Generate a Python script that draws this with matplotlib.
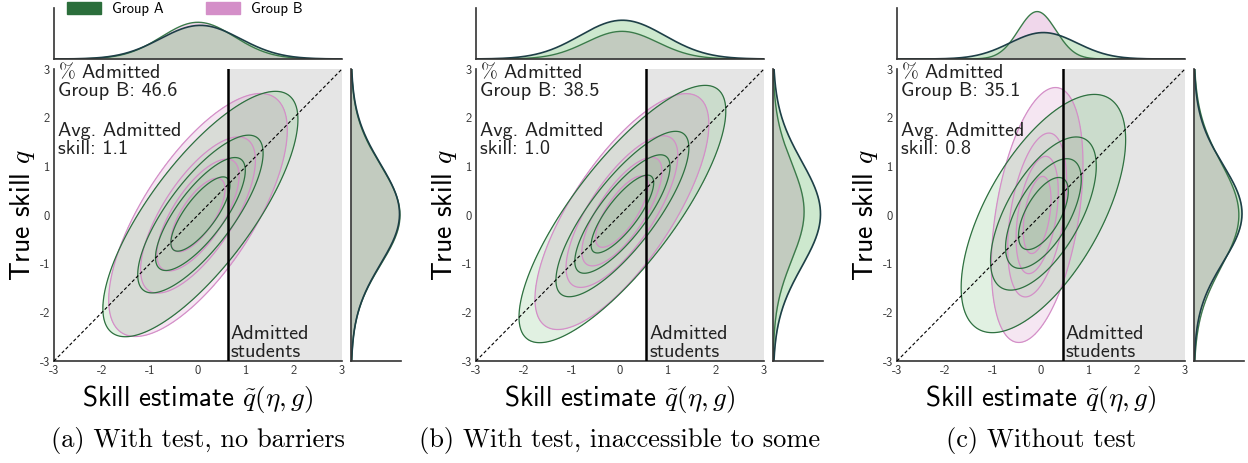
import numpy as np
import matplotlib
matplotlib.use("Agg")
import matplotlib.pyplot as plt
from matplotlib.patches import Patch

plt.rcParams['mathtext.fontset'] = 'cm'
plt.rcParams['font.family'] = ['cmss10', 'DejaVu Sans']
plt.rcParams['axes.unicode_minus'] = False

# values
captions = ['(a) With test, no barriers', '(b) With test, inaccessible to some', '(c) Without test']
pct_admitted_b = ['46.6', '38.5', '35.1']
avg_admitted_skill = ['1.1', '1.0', '0.8']
threshold = [0.62, 0.55, 0.45]

# per-panel group parameters: mean x, mean y, sd x, sd y, correlation
group_a_mean_x = [0.05, 0.05, 0.05]
group_a_mean_y = [0.02, 0.02, 0.03]
group_a_sd_x = [0.83, 0.88, 0.70]
group_a_sd_y = [1.03, 1.08, 1.0]
group_a_rho = [0.77, 0.80, 0.62]

group_b_mean_x = [0.0, 0.04, -0.08]
group_b_mean_y = [0.0, 0.07, 0.0]
group_b_sd_x = [0.76, 0.74, 0.39]
group_b_sd_y = [1.02, 0.99, 1.07]
group_b_rho = [0.70, 0.74, 0.40]

# marginal weight of group B relative to A
group_b_weight = [1.0, 0.6, 1.0]

# iso-proportion levels (mass outside each contour)
levels = [0.05, 0.29, 0.53, 0.76]

ticks = [-3, -2, -1, 0, 1, 2, 3]
tick_labels = ['-3', '-2', '-1', '0', '1', '2', '3']

green_fill = '#4caf50'
green_edge = '#2e7040'
pink_fill = '#d48fc8'
pink_edge = '#d48fc8'
dark_line = '#1d3f47'

W, H = 1248, 463
fig = plt.figure(figsize=(W / 100, H / 100), dpi=100)

main_left = [54, 476, 897]
main_w = 288
main_top, main_bot = 69, 361
marg_gap = 9
marg_w = 50
top_marg_top, top_marg_bot = 8, 59
top_frac = [0.72, 0.76, 0.93]
right_frac = [0.98, 0.95, 0.96]

grid = np.linspace(-3.2, 3.2, 400)
X, Y = np.meshgrid(grid, grid)


def mahal(mx, my, sx, sy, rho):
    u = (X - mx) / sx
    v = (Y - my) / sy
    return (u * u - 2 * rho * u * v + v * v) / (1 - rho ** 2)


def gauss(t, m, s):
    return np.exp(-0.5 * ((t - m) / s) ** 2) / (np.sqrt(2 * np.pi) * s)


r2 = [-2 * np.log(l) for l in levels]

for i in range(3):
    L = main_left[i]
    ax = fig.add_axes([L / W, 1 - main_bot / H, main_w / W, (main_bot - main_top) / H])
    axt = fig.add_axes([L / W, 1 - top_marg_bot / H, main_w / W, (top_marg_bot - top_marg_top) / H])
    axr = fig.add_axes([(L + main_w + marg_gap) / W, 1 - main_bot / H, marg_w / W, (main_bot - main_top) / H])

    ax.axvspan(threshold[i], 3, color='#e5e5e5', zorder=0, lw=0)

    groups = [
        (group_b_mean_x[i], group_b_mean_y[i], group_b_sd_x[i], group_b_sd_y[i], group_b_rho[i], pink_fill, pink_edge, 0.22),
        (group_a_mean_x[i], group_a_mean_y[i], group_a_sd_x[i], group_a_sd_y[i], group_a_rho[i], green_fill, green_edge, 0.165),
    ]
    for mx, my, sx, sy, rho, fc, ec, a in groups:
        d2 = mahal(mx, my, sx, sy, rho)
        for k, r in enumerate(r2):
            ax.contourf(X, Y, d2, levels=[0, r], colors=[fc], alpha=a if k == 0 else 0.07, zorder=1)
        ax.contour(X, Y, d2, levels=sorted(r2), colors=[ec], linewidths=0.9, zorder=2)

    ax.plot([-3, 3], [-3, 3], color='black', lw=0.8, ls=(0, (3, 2)), zorder=3)
    ax.axvline(threshold[i], color='black', lw=1.8, zorder=4)

    ax.set_xlim(-3, 3)
    ax.set_ylim(-3, 3)
    ax.set_xticks(ticks)
    ax.set_xticklabels(tick_labels)
    ax.set_yticks(ticks)
    ax.set_yticklabels(tick_labels)
    ax.tick_params(length=0, labelsize=9, colors='#333333', pad=3)
    for s in ['top', 'right']:
        ax.spines[s].set_visible(False)
    for s in ['left', 'bottom']:
        ax.spines[s].set_color('#333333')
        ax.spines[s].set_linewidth(1.2)

    ax.set_xlabel(r'Skill estimate $\tilde{q}(\eta, g)$', fontsize=19.5, labelpad=4)
    ax.set_ylabel(r'True skill $q$', fontsize=20, labelpad=2)

    ax.text(-2.92, 3.16, r'$\%$ Admitted' + '\nGroup B: ' + pct_admitted_b[i],
            fontsize=14.5, va='top', ha='left', color='#222222', zorder=5, linespacing=1.05)
    ax.text(-2.92, 1.92, 'Avg. Admitted\nskill: ' + avg_admitted_skill[i],
            fontsize=14.5, va='top', ha='left', color='#222222', zorder=5, linespacing=1.05)
    ax.text(threshold[i] + 0.06, -3.0, 'Admitted\nstudents',
            fontsize=14.5, va='bottom', ha='left', color='#222222', zorder=5, linespacing=1.0)

    # marginals
    t = np.linspace(-3, 3, 400)
    ta = gauss(t, group_a_mean_x[i], group_a_sd_x[i])
    tb = group_b_weight[i] * gauss(t, group_b_mean_x[i], group_b_sd_x[i])
    axt.fill_between(t, 0, tb, color=pink_fill, alpha=0.35, lw=0)
    axt.fill_between(t, 0, ta, color=green_fill, alpha=0.28, lw=0)
    axt.plot(t, tb, color='#3b7a4a', lw=1.0)
    axt.plot(t, ta, color=dark_line, lw=1.2)
    axt.set_xlim(-3, 3)
    axt.set_ylim(0, max(ta.max(), tb.max()) / top_frac[i])

    ra = gauss(t, group_a_mean_y[i], group_a_sd_y[i])
    rb = group_b_weight[i] * gauss(t, group_b_mean_y[i], group_b_sd_y[i])
    axr.fill_betweenx(t, 0, rb, color=pink_fill, alpha=0.35, lw=0)
    axr.fill_betweenx(t, 0, ra, color=green_fill, alpha=0.28, lw=0)
    axr.plot(rb, t, color='#3b7a4a', lw=1.0)
    axr.plot(ra, t, color=dark_line, lw=1.2)
    axr.set_ylim(-3, 3)
    axr.set_xlim(0, max(ra.max(), rb.max()) / right_frac[i])

    for m in (axt, axr):
        m.set_xticks([])
        m.set_yticks([])
        for s in ['top', 'right']:
            m.spines[s].set_visible(False)
        for s in ['left', 'bottom']:
            m.spines[s].set_color('#333333')
            m.spines[s].set_linewidth(1.2)

    fig.text((L + main_w / 2) / W, 1 - 440 / H, captions[i], family='cmr10',
             fontsize=19, ha='center', va='center')

fig.legend(handles=[Patch(color='#2b6e3b', label='Group A'), Patch(color='#d48fc8', label='Group B')],
           loc='upper left', bbox_to_anchor=(67 / W, 1 - 2 / H), ncol=2, frameon=False,
           fontsize=10.5, handlelength=2.3, handleheight=0.85, handletextpad=0.8,
           columnspacing=2.9, borderpad=0, borderaxespad=0)

fig.savefig('out.png', dpi=100)
